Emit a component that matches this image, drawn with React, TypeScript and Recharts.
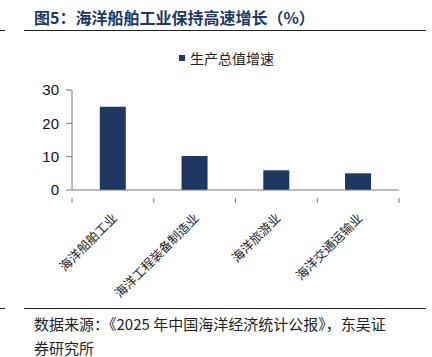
import React from 'react';
import { BarChart, Bar, XAxis, YAxis, Legend } from 'recharts';

const categories = ['海洋船舶工业', '海洋工程装备制造业', '海洋旅游业', '海洋交通运输业'];
const growthValues = [25, 10.2, 5.9, 5.0];
const yTicks = [0, 10, 20, 30];
const seriesName = '生产总值增速';

const data = categories.map((name, i) => ({ name, value: growthValues[i] }));

const BAR_COLOR = '#1f3763';
const AXIS_COLOR = '#7a7a7a';
const CJK = '"Noto Sans CJK SC", "Noto Sans", sans-serif';

const PLOT_LEFT = 72;
const PLOT_RIGHT = 399;
const BAND = (PLOT_RIGHT - PLOT_LEFT) / categories.length;

const CategoryTick = (props: any) => {
  const { x, y, payload, index } = props;
  const px = x + 5;
  const py = y + 21;
  return (
    <g>
      <line x1={x - BAND / 2} y1={y} x2={x - BAND / 2} y2={y + 5} stroke={AXIS_COLOR} />
      {index === categories.length - 1 && (
        <line x1={x + BAND / 2} y1={y} x2={x + BAND / 2} y2={y + 5} stroke={AXIS_COLOR} />
      )}
      <text
        x={px}
        y={py}
        transform={`rotate(-45, ${px}, ${py})`}
        textAnchor="end"
        fontFamily={CJK}
        fontSize={12.5}
        fill="#222"
      >
        {payload.value}
      </text>
    </g>
  );
};

const LegendContent = () => (
  <div style={{ display: 'flex', alignItems: 'center', height: 20, fontFamily: CJK, fontSize: 14, color: '#222' }}>
    <span style={{ width: 6, height: 6, background: BAR_COLOR, display: 'inline-block', marginRight: 5 }} />
    <span>{seriesName}</span>
  </div>
);

const hr = (top: number, left: number, width: number) => (
  <div style={{ position: 'absolute', top, left, width, height: 0, borderTop: '1.5px solid #222' }} />
);

export default function App() {
  return (
    <div style={{ position: 'absolute', left: 0, top: 0, width: 432, height: 357, background: '#fff', overflow: 'hidden' }}>
      <div
        style={{
          position: 'absolute',
          left: 34,
          top: 5,
          fontFamily: CJK,
          fontSize: 16,
          fontWeight: 700,
          color: '#1f3763',
          whiteSpace: 'nowrap',
        }}
      >
        图5：海洋船舶工业保持高速增长（%）
      </div>
      {hr(30, 0, 5)}
      {hr(30, 24, 402)}

      <div style={{ position: 'absolute', left: 0, top: 40 }}>
        <BarChart
          width={432}
          height={266}
          data={data}
          barCategoryGap="34%"
          margin={{ top: 50, right: 432 - PLOT_RIGHT, left: 32, bottom: 16 }}
        >
          <XAxis
            dataKey="name"
            height={80}
            interval={0}
            stroke={AXIS_COLOR}
            tickLine={false}
            tick={<CategoryTick />}
          />
          <YAxis
            width={40}
            domain={[0, 30]}
            ticks={yTicks}
            stroke={AXIS_COLOR}
            tickSize={6}
            tickMargin={7}
            tick={{ fill: '#111', fontSize: 15, fontFamily: 'Liberation Sans, Arial, sans-serif' }}
          />
          <Legend
            content={<LegendContent />}
            verticalAlign="bottom"
            wrapperStyle={{ position: 'absolute', top: 8, left: 179, width: 'auto', height: 20 }}
          />
          <Bar dataKey="value" name={seriesName} fill={BAR_COLOR} isAnimationActive={false} />
        </BarChart>
      </div>

      {hr(308, 0, 5)}
      {hr(308, 24, 402)}
      <div
        style={{
          position: 'absolute',
          left: 34,
          top: 312,
          fontFamily: CJK,
          fontSize: 15,
          lineHeight: '24px',
          color: '#222',
          whiteSpace: 'nowrap',
        }}
      >
        <div>数据来源：《2025 年中国海洋经济统计公报》，东吴证</div>
        <div>券研究所</div>
      </div>
    </div>
  );
}
